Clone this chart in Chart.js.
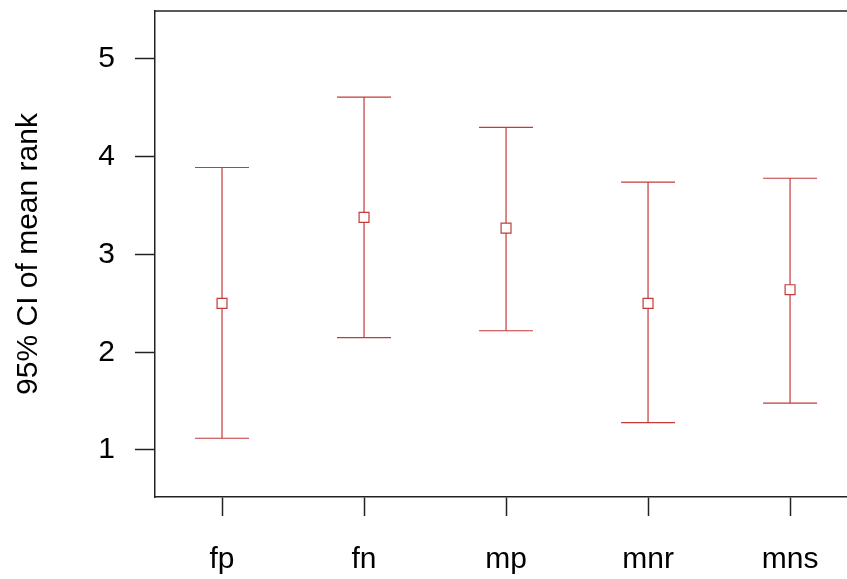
<!DOCTYPE html>
<html>
<head>
<meta charset="utf-8">
<script src="https://cdn.jsdelivr.net/npm/chart.js@4"></script>
<style>
  html, body { margin: 0; padding: 0; background: #fff; }
  #wrap { width: 847px; height: 579px; }
</style>
</head>
<body>
<div id="wrap"><canvas id="ciChart"></canvas></div>
<script>
let categories = ["fp", "fn", "mp", "mnr", "mns"];
let means = [2.50, 3.38, 3.27, 2.50, 2.64];
let lower = [1.12, 2.15, 2.22, 1.28, 1.48];
let upper = [3.89, 4.61, 4.30, 3.74, 3.78];
let yTicks = [1, 2, 3, 4, 5];

let barColor = "#c43a3a";

// error bars + top frame line
let errorBars = {
    id: "errorBars",
    afterDatasetsDraw(chart) {
        let ctx = chart.ctx;
        let xs = chart.scales.x;
        let ys = chart.scales.y;
        let area = chart.chartArea;
        ctx.save();
        ctx.strokeStyle = barColor;
        ctx.lineWidth = 1.2;
        for (let i = 0; i < categories.length; i++) {
            let px = xs.getPixelForValue(i + 1);
            let lo = ys.getPixelForValue(lower[i]);
            let hi = ys.getPixelForValue(upper[i]);
            let mid = ys.getPixelForValue(means[i]);
            ctx.beginPath();
            ctx.moveTo(px, lo);
            ctx.lineTo(px, mid + 5);
            ctx.moveTo(px, mid - 5);
            ctx.lineTo(px, hi);
            ctx.moveTo(px - 27, lo);
            ctx.lineTo(px + 27, lo);
            ctx.moveTo(px - 27, hi);
            ctx.lineTo(px + 27, hi);
            ctx.stroke();
        }
        ctx.strokeStyle = "#222";
        ctx.lineWidth = 1.5;
        ctx.beginPath();
        ctx.moveTo(area.left, area.top);
        ctx.lineTo(area.right, area.top);
        ctx.stroke();
        ctx.restore();
    }
};

let ctx = document.getElementById("ciChart").getContext("2d");

let chart = new Chart(ctx, {
    type: "scatter",
    data: {
        datasets: [{
            label: "mean rank",
            data: means.map((m, i) => ({ x: i + 1, y: m })),
            pointStyle: "rect",
            pointRadius: 7,
            pointBorderWidth: 1.2,
            borderColor: barColor,
            backgroundColor: "rgba(0,0,0,0)"
        }]
    },
    options: {
        responsive: true,
        maintainAspectRatio: false,
        animation: false,
        layout: {
            autoPadding: false,
            padding: { top: 11, right: 0, left: 0, bottom: 0 }
        },
        plugins: {
            legend: { display: false },
            tooltip: { enabled: false }
        },
        scales: {
            x: {
                type: "linear",
                min: 0.528,
                max: 5.401,
                afterFit(scale) {
                    scale.height = 82;
                    scale.paddingLeft = 0;
                    scale.paddingRight = 0;
                },
                afterBuildTicks(scale) {
                    scale.ticks = categories.map((c, i) => ({ value: i + 1 }));
                },
                ticks: {
                    callback: (v) => categories[v - 1],
                    color: "#000",
                    font: { family: "Liberation Sans", size: 30 },
                    padding: 26,
                    maxRotation: 0,
                    autoSkip: false
                },
                grid: {
                    drawOnChartArea: false,
                    drawTicks: true,
                    tickLength: 19,
                    tickColor: "#222",
                    tickWidth: 1.5
                },
                border: { display: true, color: "#222", width: 1.5 }
            },
            y: {
                min: 0.519,
                max: 5.491,
                afterFit(scale) {
                    scale.width = 155;
                    scale.paddingTop = 0;
                    scale.paddingBottom = 0;
                },
                afterBuildTicks(scale) {
                    scale.ticks = yTicks.map(v => ({ value: v }));
                },
                ticks: {
                    color: "#000",
                    font: { family: "Liberation Sans", size: 30 },
                    padding: 20
                },
                grid: {
                    drawOnChartArea: false,
                    drawTicks: true,
                    tickLength: 20,
                    tickColor: "#222",
                    tickWidth: 1.5
                },
                border: { display: true, color: "#222", width: 1.5 },
                title: {
                    display: true,
                    text: "95% CI of mean rank",
                    color: "#000",
                    font: { family: "Liberation Sans", size: 30 },
                    padding: { top: 11, bottom: 0 }
                }
            }
        }
    },
    plugins: [errorBars]
});
</script>
</body>
</html>
